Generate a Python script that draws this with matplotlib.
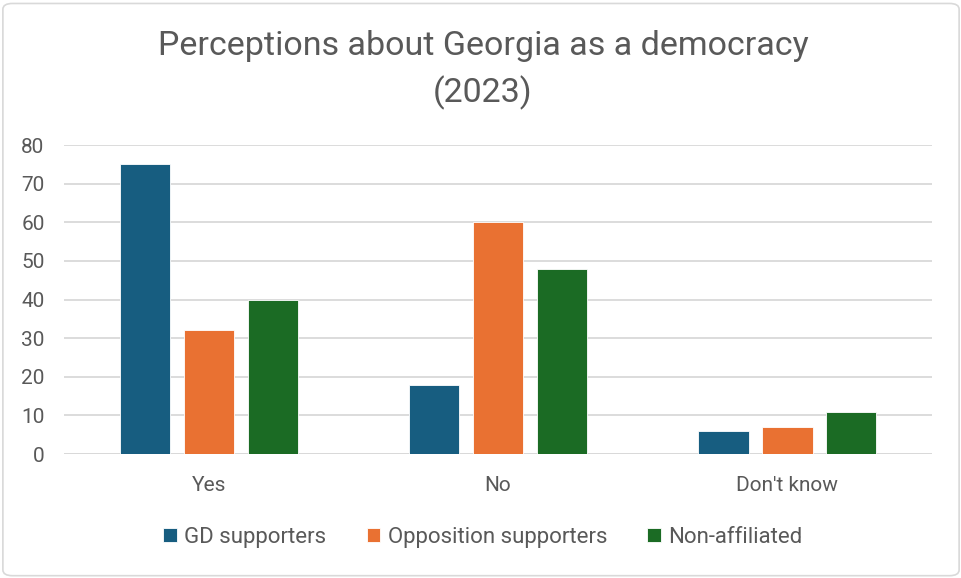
import numpy as np
import matplotlib.pyplot as plt
from matplotlib.patches import FancyBboxPatch

plt.rcParams['font.family'] = ['Roboto', 'DejaVu Sans']

# ============ data ============
categories = ['Yes', 'No', "Don't know"]
gd = [75, 18, 6]
opposition = [32, 60, 7]
non_affiliated = [40, 48, 11]
series_names = ['GD supporters', 'Opposition supporters', 'Non-affiliated']
colors = ['#175d80', '#e97132', '#1b6b24']

text_color = '#595959'

fig = plt.figure(figsize=(9.62, 5.78), dpi=100)
ax = fig.add_axes([0.0665, 0.2145, 0.9025, 0.5345])

x = np.arange(len(categories))
w = 0.173
step = 0.221
for i, (vals, name, c) in enumerate(zip([gd, opposition, non_affiliated], series_names, colors)):
    ax.bar(x + (i - 1) * step, vals, width=w, color=c, label=name,
           edgecolor='white', linewidth=0.6, zorder=3)

ax.set_xlim(-0.5, 2.5)
ax.set_ylim(0, 80)
ax.set_yticks(range(0, 81, 10))
ax.set_xticks(x)
ax.set_xticklabels(categories)
ax.grid(axis='y', color='#d9d9d9', linewidth=1.3, zorder=0)
ax.tick_params(length=0, labelsize=15, colors=text_color)
ax.tick_params(axis='x', pad=16)
ax.tick_params(axis='y', pad=14)
for s in ax.spines.values():
    s.set_visible(False)
ax.axhline(0, color='#d9d9d9', linewidth=1.3, zorder=2)

fig.text(0.502, 0.921, 'Perceptions about Georgia as a democracy', ha='center', va='center',
         fontsize=24.5, color=text_color)
fig.text(0.502, 0.839, '(2023)', ha='center', va='center', fontsize=24.5, color=text_color)

fig.legend(loc='center', bbox_to_anchor=(0.502, 0.07), ncol=3, frameon=False,
           fontsize=16, labelcolor=text_color, handlelength=0.6, handleheight=0.6,
           handletextpad=0.35, columnspacing=1.8)

fig.patches.append(FancyBboxPatch((0.003, 0.004), 0.994, 0.99, boxstyle='round,pad=0,rounding_size=0.01',
                                  transform=fig.transFigure, facecolor='none',
                                  edgecolor='#d9d9d9', linewidth=1.2))

fig.savefig('out.png', dpi=100)
